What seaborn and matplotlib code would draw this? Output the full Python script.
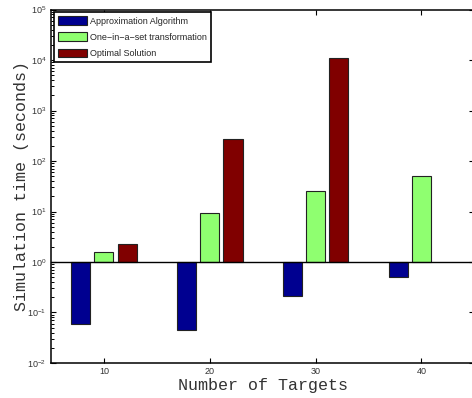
import numpy as np
import pandas as pd
import matplotlib
matplotlib.use('Agg')
import matplotlib.pyplot as plt
import matplotlib.ticker as mticker
from matplotlib.patches import Patch
import seaborn as sns

# データ
targets = [10, 20, 30, 40]
methods = ['Approximation Algorithm', 'One\u2212in\u2212a\u2212set transformation', 'Optimal Solution']
approx_time = [0.058, 0.046, 0.21, 0.50]
one_in_a_set_time = [1.6, 9.4, 26, 51]
optimal_time = [2.25, 270, 11000, np.nan]
colors = ['#000090', '#8FFF70', '#800000']

sns.set_style('ticks')
plt.rcParams['font.family'] = ['Liberation Sans', 'DejaVu Sans']
plt.rcParams['mathtext.fontset'] = 'custom'
plt.rcParams['mathtext.rm'] = 'Liberation Sans'
plt.rcParams['mathtext.it'] = 'Liberation Sans:italic'
plt.rcParams['mathtext.bf'] = 'Liberation Sans:bold'
plt.rcParams['mathtext.default'] = 'regular'


def build_frame():
    rows = []
    for name, vals in zip(methods, [approx_time, one_in_a_set_time, optimal_time]):
        for t, v in zip(targets, vals):
            rows.append({'targets': t, 'time': v, 'method': name})
    return pd.DataFrame(rows)


def main():
    df = build_frame()
    fig = plt.figure(figsize=(4.72, 3.98), dpi=100)
    ax = fig.add_axes([0.108, 0.088, 0.897, 0.888])

    sns.barplot(data=df, x='targets', y='time', hue='method', hue_order=methods,
                native_scale=True, width=0.66, gap=0.18, palette=colors,
                saturation=1, edgecolor='#222222', linewidth=0.8,
                errorbar=None, legend=False, ax=ax)

    # MATLAB風: 基準線 1 からバーを伸ばす
    for rect in list(ax.patches):
        v = rect.get_height()
        if not np.isfinite(v) or v == 0:
            rect.remove()
            continue
        rect.set_y(min(v, 1.0))
        rect.set_height(abs(v - 1.0))

    ax.set_yscale('log')
    ax.set_ylim(1e-2, 1e5)
    ax.set_xlim(5, 45)
    ax.set_xticks(targets)
    ax.set_xticklabels([str(t) for t in targets])
    ax.yaxis.set_major_locator(mticker.FixedLocator([10.0 ** k for k in range(-2, 6)]))
    ax.yaxis.set_major_formatter(mticker.LogFormatterSciNotation(base=10))
    minors = [m * 10.0 ** k for k in range(-2, 5) for m in range(2, 10)]
    ax.yaxis.set_minor_locator(mticker.FixedLocator(minors))
    ax.yaxis.set_minor_formatter(mticker.NullFormatter())
    ax.axhline(1.0, color='black', lw=1.0, zorder=3)

    ax.tick_params(axis='both', which='major', direction='in', top=True, right=True,
                   labelsize=6.5, color='black', labelcolor='#333333',
                   length=3.5, width=0.8)
    ax.tick_params(axis='y', which='minor', direction='in', left=True, right=False,
                   color='black', length=2.2, width=0.7)
    ax.tick_params(axis='x', which='major', pad=3)
    for s in ax.spines.values():
        s.set_linewidth(1.1)
        s.set_color('black')

    ax.set_xlabel('Number of Targets', family='Liberation Mono', fontsize=12,
                  color='#333333', labelpad=1)
    ax.set_ylabel('Simulation time (seconds)', family='Liberation Mono', fontsize=12,
                  color='#333333', labelpad=-1.5)

    handles = [Patch(facecolor=c, edgecolor='#222222', linewidth=0.8) for c in colors]
    leg = ax.legend(handles, methods, loc='upper left', fontsize=6.5,
                    frameon=True, fancybox=False, framealpha=1, edgecolor='black',
                    borderaxespad=0.3, borderpad=0.45, labelspacing=0.75,
                    handlelength=3.2, handleheight=1.1, handletextpad=0.35)
    leg.get_frame().set_linewidth(1.2)

    fig.savefig('out.png', dpi=100)
    plt.close(fig)


if __name__ == '__main__':
    main()
